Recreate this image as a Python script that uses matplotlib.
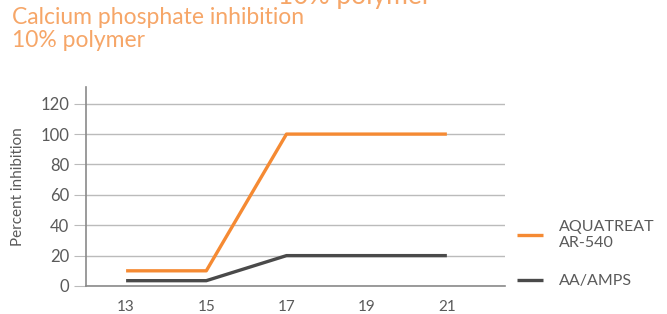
import matplotlib
matplotlib.use("Agg")
import matplotlib.pyplot as plt

x_values = [13, 15, 17, 19, 21]
aquatreat = [10, 10, 100, 100, 100]
aa_amps = [3.5, 3.5, 20, 20, 20]
y_ticks = [0, 20, 40, 60, 80, 100, 120]
series_labels = ["AQUATREAT\nAR-540", "AA/AMPS"]
title_text = "Calcium phosphate inhibition\n10% polymer"
ylabel_text = "Percent inhibition"

plt.rcParams['font.family'] = ['Lato', 'DejaVu Sans']

ORANGE = "#F58A33"
TITLE_ORANGE = "#F6A668"
DARK = "#4A4A4A"
TXT = "#5A5A5A"

fig = plt.figure(figsize=(6.67, 3.14), dpi=100)
ax = fig.add_axes([86/667, 28/314, (505-86)/667, (286-87)/314])

ax.plot(x_values, aquatreat, color=ORANGE, lw=2.4, label=series_labels[0], solid_capstyle='butt')
ax.plot(x_values, aa_amps, color=DARK, lw=2.4, label=series_labels[1], solid_capstyle='butt')

ax.set_xlim(12, 22.45)
ax.set_ylim(0, 131)
ax.set_xticks(x_values)
ax.set_yticks(y_ticks)
ax.grid(axis='y', color="#BBBBBB", lw=1)
ax.set_axisbelow(True)
for s in ['top', 'right']:
    ax.spines[s].set_visible(False)
for s in ['left', 'bottom']:
    ax.spines[s].set_color("#8A8A8A")
    ax.spines[s].set_linewidth(1.2)
ax.tick_params(axis='y', length=9, color="#BBBBBB", labelsize=12, labelcolor=TXT, pad=3)
ax.tick_params(axis='x', length=0, labelsize=11, labelcolor=TXT, pad=10)
ax.set_ylabel(ylabel_text, fontsize=11, color=TXT, labelpad=11)

fig.text(12/667, 1 - 7/314, title_text, ha='left', va='top', fontsize=16.5,
         color=TITLE_ORANGE, linespacing=1.12)
fig.text(355/667, 1 - 4/314, "10% polymer", ha='center', va='baseline', fontsize=19,
         color=TITLE_ORANGE)

leg = ax.legend(loc='upper left', bbox_to_anchor=(517/667, 1 - 220/314),
                bbox_transform=fig.transFigure, frameon=False, fontsize=11.5,
                handlelength=1.65, handletextpad=0.95, labelspacing=1.5,
                borderaxespad=0, borderpad=0)
for t in leg.get_texts():
    t.set_color(TXT)

fig.savefig("out.png", dpi=100)
